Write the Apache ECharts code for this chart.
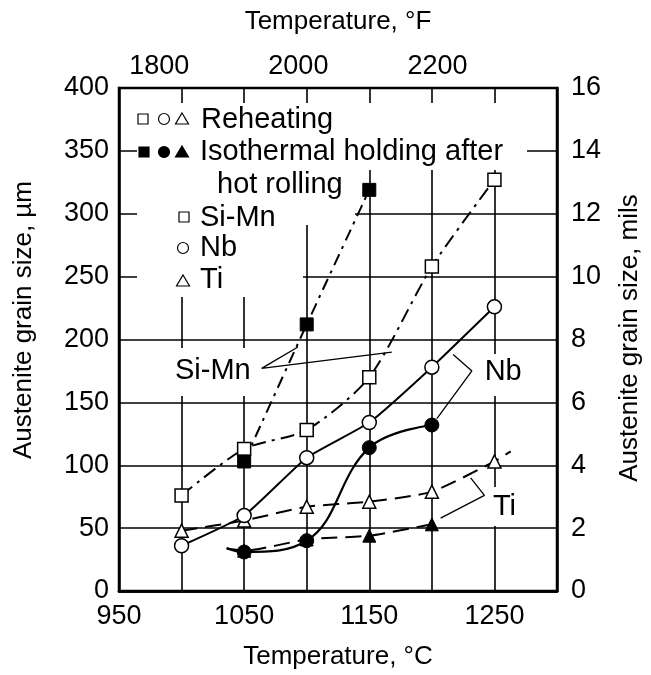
<!DOCTYPE html>
<html>
<head>
<meta charset="utf-8">
<title>Austenite grain size vs temperature</title>
<script src="https://cdn.jsdelivr.net/npm/echarts@6/dist/echarts.min.js"></script>
<style>
  html, body { margin: 0; padding: 0; background: #fff; }
  #main { width: 651px; height: 675px; }
</style>
</head>
<body>
<div id="main"></div>
<script>
// temperature, °C
var tempsReheat = [1000, 1050, 1100, 1150, 1200, 1250];
// austenite grain size, um (reheating)
var siMnReheat = [76, 113, 128, 170, 258, 327];
var nbReheat = [36, 60, 106, 134, 178, 226];
var tiReheat = [48, 56, 67, 71, 79, 103];
var tiReheatEnd = [1263, 111]; // dashed Ti line runs past last point

// isothermal holding after hot rolling
var tempsSiMnIso = [1050, 1100, 1150];
var siMnIso = [103, 212, 319];
var tempsIso = [1050, 1100, 1150, 1200];
var nbIso = [31, 40, 114, 132];
var tiIso = [32, 41, 44, 53];
var isoStart = [1036, 34]; // lead-in stub left of 1050

// tick labels
var xLabelsC = [950, 1050, 1150, 1250];
var xLabelsF = [1800, 2000, 2200];
var xTicksF = [1800, 2200];

// annotation leader lines (data coords)
var siMnLeader = [[1093, 194], [1064, 177], [1168, 190]];
var nbBracket = [[1217, 188], [1232, 175], [1204, 137]];
var tiBracket = [[1231, 90], [1242, 76], [1207, 58]];
var notes = [
  { name: "Si-Mn", value: [1025, 175] },
  { name: "Nb", value: [1257, 174] },
  { name: "Ti", value: [1258, 67] }
];

var FONT = '"Liberation Sans", Arial, sans-serif';

function zip(xs, ys) {
  return xs.map(function (x, i) { return [x, ys[i]]; });
}

var chart = echarts.init(document.getElementById("main"));

var openItem = { color: "#fff", borderColor: "#000", borderWidth: 1.5 };
var fullItem = { color: "#000", borderColor: "#000", borderWidth: 1 };

function legendSquare(cx, cy, fill) {
  return { type: "rect", z: 10, shape: { x: cx - 5, y: cy - 5, width: 10, height: 10 },
    style: { fill: fill, stroke: "#000", lineWidth: 1.2 } };
}
function legendCircle(cx, cy, fill) {
  return { type: "circle", z: 10, shape: { cx: cx, cy: cy, r: 5.5 },
    style: { fill: fill, stroke: "#000", lineWidth: 1.2 } };
}
function legendTri(cx, cy, fill) {
  return { type: "polygon", z: 10, shape: { points: [[cx, cy - 6], [cx + 6.5, cy + 5], [cx - 6.5, cy + 5]] },
    style: { fill: fill, stroke: "#000", lineWidth: 1.2 } };
}
function legendText(x, y, t) {
  return { type: "text", z: 10, x: x, y: y,
    style: { text: t, font: "29px " + FONT, fill: "#000", verticalAlign: "middle" } };
}
function blank(x, y, w, h) {
  return { type: "rect", z: 1, shape: { x: x, y: y, width: w, height: h }, style: { fill: "#fff" } };
}

var option = {
  animation: false,
  backgroundColor: "#fff",
  textStyle: { fontFamily: FONT, color: "#000" },
  grid: { left: 119, right: 94, top: 88, bottom: 83, show: true, borderColor: "#000", borderWidth: 2.5 },
  xAxis: [
    {
      type: "value", min: 950, max: 1300, interval: 50,
      name: "Temperature, °C", nameLocation: "middle", nameGap: 53,
      nameTextStyle: { fontSize: 26, color: "#000" },
      axisLine: { lineStyle: { color: "#000", width: 2.5 } },
      axisTick: { show: false },
      axisLabel: {
        fontSize: 27, color: "#000", margin: 12,
        formatter: function (v) { return xLabelsC.indexOf(v) >= 0 ? String(v) : ""; }
      },
      splitLine: { show: true, lineStyle: { color: "#000", width: 1.6 } }
    },
    {
      type: "value", position: "top", min: 950 * 1.8 + 32, max: 1300 * 1.8 + 32,
      name: "Temperature, °F", nameLocation: "middle", nameGap: 53,
      nameTextStyle: { fontSize: 26, color: "#000" },
      axisLine: { lineStyle: { color: "#000", width: 2.5 } },
      axisTick: { show: false },
      axisLabel: {
        fontSize: 27, color: "#000", margin: 8, customValues: xLabelsF,
        formatter: function (v) { return String(v); }
      },
      splitLine: { show: false }
    }
  ],
  yAxis: [
    {
      type: "value", min: 0, max: 400, interval: 50, position: "left",
      axisLine: { lineStyle: { color: "#000", width: 2.5 } },
      axisTick: { show: false },
      axisLabel: { fontSize: 27, color: "#000", margin: 10 },
      splitLine: { show: true, lineStyle: { color: "#000", width: 1.6 } }
    },
    {
      type: "value", min: 0, max: 16, interval: 2, position: "right",
      axisLine: { show: true, lineStyle: { color: "#000", width: 2.5 } },
      axisTick: { show: false },
      axisLabel: { fontSize: 27, color: "#000", margin: 14 },
      splitLine: { show: false }
    }
  ],
  graphic: [
    // gaps in the grid behind the legend and the notes
    blank(137, 103, 390, 67),
    blank(137, 170, 218, 55),
    blank(137, 225, 166, 72),
    blank(168, 348, 92, 48),
    blank(484, 354, 40, 42),
    blank(490, 487, 30, 39),
    // axis titles on the sides
    { type: "text", z: 10, x: 24, y: 320, rotation: Math.PI / 2,
      style: { text: "Austenite grain size, µm", font: "26px " + FONT, fill: "#000", align: "center", verticalAlign: "middle" } },
    { type: "text", z: 10, x: 630, y: 338, rotation: Math.PI / 2,
      style: { text: "Austenite grain size, mils", font: "26px " + FONT, fill: "#000", align: "center", verticalAlign: "middle" } },
    // legend
    legendSquare(143, 119, "#fff"), legendCircle(164, 119, "#fff"), legendTri(182, 119, "#fff"),
    legendText(201, 120, "Reheating"),
    legendSquare(144, 152, "#000"), legendCircle(164, 152, "#000"), legendTri(182, 152, "#000"),
    legendText(200, 152, "Isothermal holding after"),
    legendText(217, 185, "hot rolling"),
    legendSquare(184, 217, "#fff"), legendText(200, 218, "Si-Mn"),
    legendCircle(183, 248, "#fff"), legendText(200, 248, "Nb"),
    legendTri(183, 281, "#fff"), legendText(200, 280, "Ti")
  ],
  series: [
    {
      name: "Si-Mn reheating", type: "line", smooth: 0.25,
      data: zip(tempsReheat, siMnReheat),
      symbol: "rect", symbolSize: 13, itemStyle: openItem,
      lineStyle: { color: "#000", width: 2, type: [14, 6, 3, 6] }
    },
    {
      name: "Si-Mn isothermal", type: "line", smooth: 0.2,
      data: zip(tempsSiMnIso, siMnIso),
      symbol: "rect", symbolSize: 13, itemStyle: fullItem,
      lineStyle: { color: "#000", width: 2, type: [12, 6, 3, 6] }
    },
    {
      name: "Ti reheating", type: "line", smooth: 0.2,
      data: zip(tempsReheat, tiReheat).concat([{ value: tiReheatEnd, symbol: "none" }]),
      symbol: "triangle", symbolSize: 13, itemStyle: openItem,
      lineStyle: { color: "#000", width: 2, type: [16, 8] }
    },
    {
      name: "Ti isothermal", type: "line", smooth: 0.2,
      data: [{ value: isoStart, symbol: "none" }].concat(zip(tempsIso, tiIso)),
      symbol: "triangle", symbolSize: 13, itemStyle: fullItem,
      lineStyle: { color: "#000", width: 2, type: [16, 8] }
    },
    {
      name: "Nb reheating", type: "line", smooth: 0.15,
      data: zip(tempsReheat, nbReheat),
      symbol: "circle", symbolSize: 14, itemStyle: openItem,
      lineStyle: { color: "#000", width: 2 }
    },
    {
      name: "Nb isothermal", type: "line", smooth: 0.4,
      data: [{ value: isoStart, symbol: "none" }].concat(zip(tempsIso, nbIso)),
      symbol: "circle", symbolSize: 14, itemStyle: fullItem,
      lineStyle: { color: "#000", width: 2.2 }
    },
    { type: "line", data: siMnLeader, symbol: "none", silent: true, lineStyle: { color: "#000", width: 1.3 } },
    { type: "line", data: nbBracket, symbol: "none", silent: true, lineStyle: { color: "#000", width: 1.3 } },
    { type: "line", data: tiBracket, symbol: "none", silent: true, lineStyle: { color: "#000", width: 1.3 } },
    {
      type: "scatter", data: notes, symbolSize: 0, silent: true, z: 10,
      itemStyle: { opacity: 1, color: "#000" },
      label: {
        show: true, position: [0, 0], align: "center", verticalAlign: "middle",
        formatter: "{b}", fontSize: 29, fontFamily: FONT, color: "#000", opacity: 1
      }
    }
  ]
};

chart.setOption(option);
</script>
</body>
</html>
